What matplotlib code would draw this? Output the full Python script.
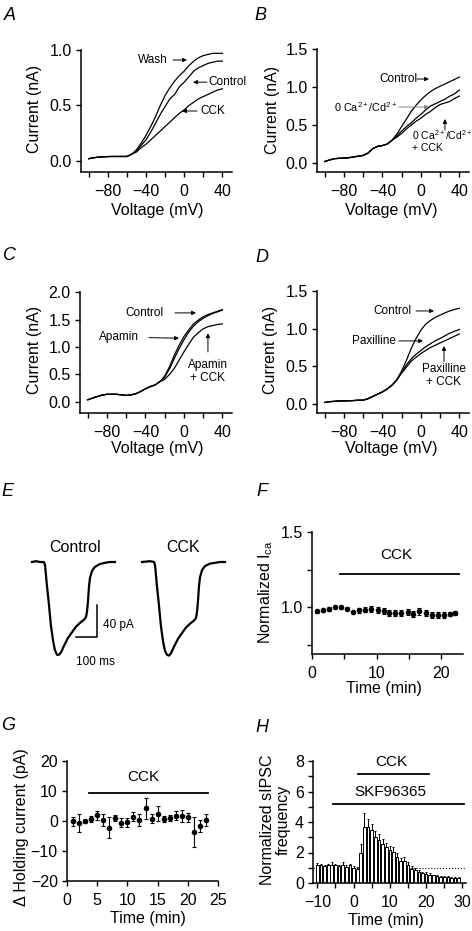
import numpy as np
import matplotlib
matplotlib.use('Agg')
import matplotlib.pyplot as plt

# Helvetica look-alike for everything, including the sub/superscripts
plt.rcParams['font.family'] = ['Liberation Sans', 'DejaVu Sans']
plt.rcParams['mathtext.fontset'] = 'custom'
plt.rcParams['mathtext.rm'] = 'Liberation Sans'
plt.rcParams['mathtext.it'] = 'Liberation Sans:italic'
plt.rcParams['mathtext.bf'] = 'Liberation Sans:bold'

# ---------------- data ----------------
# voltage grid of the I-V curves (mV)
volt = [-100, -95, -90, -85, -80, -75, -70, -65, -60, -55, -50, -45, -40, -35, -30,
        -25, -20, -15, -10, -5, 0, 5, 10, 15, 20, 25, 30, 35, 40]

# A
a_common = [0.02, 0.028, 0.034, 0.037, 0.039, 0.04, 0.04, 0.04, 0.04, 0.06]
a_wash = a_common + [0.10, 0.16, 0.23, 0.31, 0.40, 0.50, 0.59, 0.66, 0.72, 0.77, 0.81,
                     0.86, 0.90, 0.93, 0.95, 0.96, 0.97, 0.97, 0.97]
a_control = a_common + [0.09, 0.14, 0.19, 0.26, 0.34, 0.42, 0.49, 0.56, 0.60, 0.67, 0.71,
                        0.76, 0.81, 0.84, 0.86, 0.88, 0.89, 0.90, 0.90]
a_cck = a_common + [0.08, 0.12, 0.15, 0.19, 0.23, 0.27, 0.31, 0.35, 0.39, 0.43, 0.46,
                    0.50, 0.53, 0.56, 0.58, 0.60, 0.62, 0.64, 0.65]

# B
b_common = [0.02, 0.04, 0.057, 0.062, 0.065, 0.07, 0.08, 0.09, 0.10, 0.13, 0.19, 0.22,
            0.23, 0.25, 0.30]
b_control = b_common + [0.38, 0.48, 0.58, 0.68, 0.76, 0.83, 0.89, 0.94, 0.98, 1.01, 1.04,
                        1.07, 1.10, 1.13]
b_zero_ca = b_common + [0.36, 0.42, 0.48, 0.53, 0.59, 0.64, 0.70, 0.75, 0.78, 0.81, 0.84,
                        0.88, 0.91, 0.96]
b_zero_ca_cck = b_common + [0.34, 0.39, 0.45, 0.50, 0.55, 0.59, 0.64, 0.68, 0.73, 0.77,
                            0.79, 0.81, 0.85, 0.88]

# C
c_common = [0.04, 0.07, 0.10, 0.125, 0.14, 0.14, 0.14, 0.13, 0.12, 0.13, 0.15, 0.19, 0.24,
            0.28, 0.31, 0.37]
c_control = c_common + [0.47, 0.64, 0.85, 1.03, 1.19, 1.31, 1.42, 1.49, 1.55, 1.59, 1.62,
                        1.65, 1.68]
c_apamin = c_common + [0.45, 0.60, 0.79, 0.97, 1.13, 1.27, 1.38, 1.46, 1.52, 1.57, 1.61,
                       1.64, 1.67]
c_apamin_cck = c_common + [0.41, 0.50, 0.61, 0.76, 0.91, 1.05, 1.18, 1.26, 1.33, 1.37,
                           1.39, 1.41, 1.42]

# D
d_common = [0.02, 0.03, 0.035, 0.04, 0.04, 0.043, 0.045, 0.05, 0.05, 0.07, 0.10, 0.13,
            0.16, 0.20, 0.25, 0.32]
d_control = d_common + [0.44, 0.58, 0.74, 0.87, 0.98, 1.06, 1.11, 1.15, 1.18, 1.21, 1.235,
                        1.255, 1.27]
d_paxilline = d_common + [0.42, 0.52, 0.60, 0.66, 0.71, 0.76, 0.80, 0.84, 0.87, 0.905,
                          0.94, 0.965, 0.99]
d_paxilline_cck = d_common + [0.41, 0.49, 0.57, 0.62, 0.67, 0.71, 0.75, 0.78, 0.81, 0.84,
                              0.87, 0.90, 0.93]

# E  (current traces, ms / pA)
e_time = [0, 19, 38, 57, 62, 71, 81, 90, 100, 109, 119, 128, 138, 152, 171, 190, 209, 229,
          248, 257, 262, 267, 271, 276, 286, 300, 324, 348, 371, 395]
e_control = [0, 1, 0, 0, -4, -29, -54, -79, -98, -110, -116, -116, -113, -105, -95, -88,
             -81, -76, -72, -69, -62, -48, -32, -20, -11, -6, -2.5, -1, 0, 0]
e_cck = [0, 0.5, 1, 0, -4, -30, -55, -80, -99, -111, -116, -117, -114, -106, -96, -89,
         -82, -77, -73, -70, -62, -47, -31, -19, -10, -5, -2, -1, 0, 0]

# F
f_time = [0.8, 1.7, 2.6, 3.5, 4.5, 5.5, 6.4, 7.3, 8.2, 9.2, 10.2, 11.1, 12.0, 12.9, 13.8,
          14.8, 15.7, 16.6, 17.6, 18.6, 19.5, 20.5, 21.4, 22.2]
f_val = [0.971, 0.978, 0.987, 1.0, 0.998, 0.987, 0.967, 0.978, 0.982, 0.987, 0.982, 0.971,
         0.96, 0.96, 0.96, 0.967, 0.955, 0.971, 0.96, 0.949, 0.949, 0.949, 0.955, 0.96]
f_err = [0.012, 0.012, 0.015, 0.008, 0.008, 0.01, 0.008, 0.015, 0.018, 0.02, 0.02, 0.02,
         0.022, 0.02, 0.02, 0.022, 0.02, 0.025, 0.02, 0.02, 0.02, 0.02, 0.015, 0.012]

# G
g_time = [1, 2, 3, 4, 5, 6, 7, 8, 9, 10, 11, 12, 13, 14, 15, 16, 17, 18, 19, 20, 21, 22, 23]
g_val = [0, -0.7, 0, 0.8, 2.0, 0.5, -2.3, 1.1, -0.6, -0.4, 1.4, 0.3, 4.3, 0.7, 2.5, 0.8,
         1.0, 1.8, 1.7, 1.3, -3.8, -1.7, 0.5]
g_err = [1.5, 3.0, 0.5, 1.0, 1.5, 2.0, 3.5, 1.0, 1.5, 1.5, 1.5, 2.0, 3.5, 1.5, 2.5, 1.0,
         1.0, 1.5, 2.0, 1.5, 5.0, 2.0, 2.0]

# H
h_time = [-10, -9, -8, -7, -6, -5, -4, -3, -2, -1, 0, 1, 2, 3, 4, 5, 6, 7, 8, 9, 10, 11,
          12, 13, 14, 15, 16, 17, 18, 19, 20, 21, 22, 23, 24, 25, 26, 27, 28, 29]
h_val = [1.2, 1.15, 1.1, 1.15, 1.2, 1.15, 1.1, 1.15, 1.05, 1.15, 1.0, 0.95, 1.95, 3.7,
         3.7, 3.5, 3.0, 2.8, 2.55, 2.35, 2.15, 2.05, 1.7, 1.45, 1.45, 1.15, 0.95, 0.85,
         0.75, 0.65, 0.6, 0.55, 0.5, 0.45, 0.42, 0.4, 0.38, 0.36, 0.35, 0.35]
h_err = [0.1, 0.1, 0.1, 0.1, 0.2, 0.1, 0.1, 0.2, 0.1, 0.1, 0.1, 0.1, 0.6, 0.9, 0.5, 0.4,
         0.4, 0.4, 0.35, 0.3, 0.3, 0.3, 0.3, 0.2, 0.25, 0.2, 0.15, 0.15, 0.1, 0.1, 0.1,
         0.1, 0.05, 0.05, 0.05, 0.05, 0.05, 0.05, 0.05, 0.05]

# ---------------- layout helpers ----------------
W, H = 472, 931
fig = plt.figure(figsize=(W / 100, H / 100), dpi=100)


def rect(x0, ytop, x1, ybot):
    return [x0 / W, 1 - ybot / H, (x1 - x0) / W, (ybot - ytop) / H]


def ftext(x, y, s, **kw):
    fig.text(x / W, 1 - y / H, s, ha=kw.pop('ha', 'center'), va=kw.pop('va', 'center'), **kw)


def style(ax):
    for s in ['top', 'right']:
        ax.spines[s].set_visible(False)
    for s in ['left', 'bottom']:
        ax.spines[s].set_linewidth(1.1)
    ax.tick_params(which='both', direction='out', length=3.6, width=1.0, labelsize=11.5)
    ax.tick_params(axis='x', pad=5)
    ax.tick_params(axis='y', pad=3)


def lab(v):
    return str(v).replace('-', '\u2212')


def iv_axes(rc, ylim, yticks):
    ax = fig.add_axes(rc)
    style(ax)
    ax.set_xlim(-108, 50)
    ax.set_ylim(*ylim)
    xt = [-100, -80, -60, -40, -20, 0, 20, 40]
    ax.set_xticks(xt)
    ax.set_xticklabels([lab(v) if v in (-80, -40, 0, 40) else '' for v in xt])
    ax.set_yticks(yticks)
    ax.set_yticklabels(['%.1f' % v for v in yticks])
    return ax


def arrow(ax, tail, tip, color='black'):
    ax.annotate('', xy=tip, xytext=tail,
                arrowprops=dict(arrowstyle='-|>', lw=0.7, color=color, mutation_scale=6,
                                shrinkA=0, shrinkB=0))


ann = 8.5
lw_iv = 0.9

# ---------------- A ----------------
ax = iv_axes(rect(81, 50, 232, 172), (-0.1, 1.0), [0.0, 0.5, 1.0])
for y in (a_wash, a_control, a_cck):
    ax.plot(volt, y, color='black', lw=lw_iv)
ax.text(-32.7, 0.91, 'Wash', fontsize=ann, ha='center', va='center')
arrow(ax, (-11.8, 0.91), (2.9, 0.91))
ax.text(24.8, 0.71, 'Control', fontsize=ann, ha='left', va='center')
arrow(ax, (23.8, 0.71), (9.2, 0.71))
ax.text(16.5, 0.45, 'CCK', fontsize=ann, ha='left', va='center')
arrow(ax, (13.3, 0.45), (-2.3, 0.45))

# ---------------- B ----------------
ax = iv_axes(rect(317, 49, 469, 172), (-0.118, 1.5), [0.0, 0.5, 1.0, 1.5])
for y in (b_control, b_zero_ca, b_zero_ca_cck):
    ax.plot(volt, y, color='black', lw=lw_iv)
ax.text(-23.8, 1.105, 'Control', fontsize=ann, ha='center', va='center')
arrow(ax, (-4, 1.105), (8.4, 1.105))
ax.text(-57, 0.737, '0 Ca$^{2+}$/Cd$^{2+}$', fontsize=7.8, ha='center', va='center')
arrow(ax, (-22.8, 0.737), (8.4, 0.737), color='#888888')
ax.text(-9.5, 0.30, '0 Ca$^{2+}$/Cd$^{2+}$\n+ CCK', fontsize=7.5, ha='left', va='center',
        linespacing=1.15)
arrow(ax, (25, 0.434), (25, 0.58))

# ---------------- C ----------------
ax = iv_axes(rect(80, 292, 232, 413), (-0.2, 2.0), [0.0, 0.5, 1.0, 1.5, 2.0])
for y in (c_control, c_apamin, c_apamin_cck):
    ax.plot(volt, y, color='black', lw=lw_iv)
ax.text(-41, 1.62, 'Control', fontsize=ann, ha='center', va='center')
arrow(ax, (-9.2, 1.62), (12.6, 1.62))
ax.text(-67, 1.18, 'Apamin', fontsize=ann, ha='center', va='center')
arrow(ax, (-36.3, 1.17), (-5.1, 1.16))
ax.text(25, 0.56, 'Apamin\n+ CCK', fontsize=ann, ha='center', va='center', linespacing=1.1)
arrow(ax, (25, 0.91), (25, 1.25))

# ---------------- D ----------------
ax = iv_axes(rect(317, 291, 469, 413), (-0.12, 1.5), [0.0, 0.5, 1.0, 1.5])
for y in (d_control, d_paxilline, d_paxilline_cck):
    ax.plot(volt, y, color='black', lw=lw_iv)
ax.text(-30, 1.235, 'Control', fontsize=ann, ha='center', va='center')
arrow(ax, (-5.1, 1.235), (13.6, 1.235))
ax.text(-49, 0.837, 'Paxilline', fontsize=ann, ha='center', va='center')
arrow(ax, (-22.8, 0.837), (2.2, 0.837))
ax.text(24, 0.378, 'Paxilline\n+ CCK', fontsize=ann, ha='center', va='center', linespacing=1.1)
arrow(ax, (24, 0.56), (24, 0.77))

for x in (157, 391):
    for y in (210, 448):
        ftext(x, y, 'Voltage (mV)', fontsize=11.5)
for x, y in ((35, 109), (272, 110), (35, 350), (271, 350)):
    ftext(x, y, 'Current (nA)', fontsize=11.5, rotation=90)

# ---------------- E ----------------
ax = fig.add_axes(rect(25, 540, 240, 670))
ax.axis('off')
ax.set_xlim(-33.3, 990.5)
ax.set_ylim(-135, 27.5)
ax.plot(e_time, e_control, color='black', lw=1.6)
ax.plot(np.array(e_time) + 524, e_cck, color='black', lw=1.6)
ax.plot([210, 310, 310], [-94, -94, -54], color='black', lw=1.1)
ax.text(338, -79, '40 pA', fontsize=ann, ha='left', va='center')
ax.text(300, -125, '100 ms', fontsize=ann, ha='center', va='center')
ax.text(205, 17.5, 'Control', fontsize=11.5, ha='center', va='center')
ax.text(719, 17.5, 'CCK', fontsize=11.5, ha='center', va='center')

# ---------------- F ----------------
ax = fig.add_axes(rect(312, 532, 463, 654))
style(ax)
ax.errorbar(f_time, f_val, yerr=f_err, fmt='o', color='black', ms=3.0, elinewidth=0.8,
            capsize=1.2, capthick=0.8)
ax.set_xlim(0, 23.4)
ax.set_ylim(0.687, 1.5)
ax.set_xticks([0, 5, 10, 15, 20])
ax.set_xticklabels(['0', '', '10', '', '20'])
ax.set_yticks([0.75, 1.0, 1.25, 1.5])
ax.set_yticklabels(['', '1.0', '', '1.5'])
ax.plot([4.3, 22.8], [1.22, 1.22], color='black', lw=1.3, clip_on=False)
ax.text(13.0, 1.347, 'CCK', fontsize=11, ha='center', va='center')
ftext(266, 592, 'Normalized I$_{\\mathrm{ca}}$', fontsize=11.5, rotation=90)
ftext(384, 689, 'Time (min)', fontsize=11.5)

# ---------------- G ----------------
ax = fig.add_axes(rect(67, 761, 218, 881))
style(ax)
ax.errorbar(g_time, g_val, yerr=g_err, fmt='o', color='black', ms=3.0, elinewidth=0.8,
            capsize=1.2, capthick=0.8)
ax.set_xlim(0, 25)
ax.set_ylim(-20, 20)
ax.set_xticks([0, 5, 10, 15, 20, 25])
ax.set_yticks([-20, -10, 0, 10, 20])
ax.set_yticklabels([lab(v) for v in [-20, -10, 0, 10, 20]])
ax.plot([3.6, 23.3], [9.3, 9.3], color='black', lw=1.3, clip_on=False)
ax.text(12.7, 14.7, 'CCK', fontsize=11, ha='center', va='center')
ftext(22, 827, '\u0394 Holding current (pA)', fontsize=11.5, rotation=90)
ftext(148, 918, 'Time (min)', fontsize=11.5)

# ---------------- H ----------------
ax = fig.add_axes(rect(313, 761, 466, 883))
style(ax)
ax.axhline(1, ls=':', lw=0.8, color='black', zorder=1)
ax.bar(h_time, h_val, width=0.75, color='white', edgecolor='black', lw=0.7, zorder=2,
       yerr=[np.zeros(len(h_err)), h_err],
       error_kw=dict(elinewidth=0.7, capsize=1.0, capthick=0.7, ecolor='black'))
ax.set_xlim(-11.2, 31)
ax.set_ylim(0, 8)
ax.set_xticks([-10, -5, 0, 5, 10, 15, 20, 25, 30])
ax.set_xticklabels([lab(v) if v % 10 == 0 else '' for v in [-10, -5, 0, 5, 10, 15, 20, 25, 30]])
ax.set_yticks([0, 1, 2, 3, 4, 5, 6, 7, 8])
ax.set_yticklabels(['0', '', '2', '', '4', '', '6', '', '8'])
ax.plot([1.2, 20.8], [7.15, 7.15], color='black', lw=1.3, clip_on=False)
ax.text(10.3, 7.93, 'CCK', fontsize=11, ha='center', va='center')
ax.plot([-5.7, 30.4], [5.18, 5.18], color='black', lw=1.3, clip_on=False)
ax.text(10.0, 5.97, 'SKF96365', fontsize=11, ha='center', va='center')
ftext(268, 820, 'Normalized sIPSC', fontsize=11.5, rotation=90)
ftext(283, 820, 'frequency', fontsize=11.5, rotation=90)
ftext(386, 920, 'Time (min)', fontsize=11.5)

# ---------------- panel letters ----------------
for s, x, y in (('A', 10, 15), ('B', 260, 16), ('C', 10, 256), ('D', 262, 258),
                ('E', 7, 491), ('F', 262, 491), ('G', 8, 725), ('H', 262, 728)):
    ftext(x, y, s, fontsize=13, style='italic')

fig.savefig('out.png', dpi=100)
